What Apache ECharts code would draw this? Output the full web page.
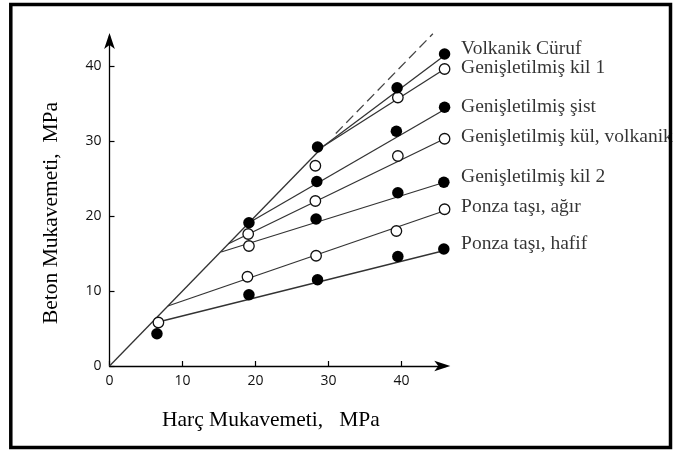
<!DOCTYPE html>
<html><head><meta charset="utf-8">
<script src="https://cdn.jsdelivr.net/npm/echarts@6/dist/echarts.min.js"></script>
<style>html,body{margin:0;padding:0;background:#fff}#c{width:675px;height:450px}</style>
</head><body><div id="c"></div>
<script>
// ---- data ----
const materials = ['Volkanik Cüruf','Genişletilmiş kil 1','Genişletilmiş şist','Genişletilmiş kül, volkanik','Genişletilmiş kil 2','Ponza taşı, ağır','Ponza taşı, hafif'];
const fitStartX = [29.3, 29.3, 19.1, 16.3, 15.3, 8.0, 6.8];
const fitStartY = [29.3, 29.3, 19.1, 16.3, 15.2, 8.0, 5.9];
const fitEndX   = [45.9, 45.9, 45.9, 45.9, 45.9, 45.9, 45.9];
const fitEndY   = [41.4, 39.6, 34.2, 30.3, 24.5, 20.7, 15.4];
const filledPoints = [[6.5,4.3],[19.1,19.1],[19.1,9.5],[28.5,29.2],[28.4,24.6],[28.3,19.6],[28.5,11.5],[39.4,37.1],[39.3,31.3],[39.5,23.1],[39.5,14.6],[45.9,41.6],[45.9,34.5],[45.8,24.5],[45.8,15.6]];
const openPoints = [[6.7,5.8],[19.0,17.6],[19.1,16.0],[18.9,11.9],[28.2,26.7],[28.2,22.0],[28.3,14.7],[39.5,35.8],[39.5,28.0],[39.3,18.0],[45.9,39.6],[45.9,30.3],[45.9,20.9]];
const equalLine = [[0,0],[29.3,29.3]];
const equalDashed = [[31.0,31.0],[44.3,44.3]];
const xTicks = [0,10,20,30,40];
const yTicks = [0,10,20,30,40];
const xName = 'Harç Mukavemeti,   MPa';
const yName = 'Beton Mukavemeti,  MPa';

// ---- chart ----
const chart = echarts.init(document.getElementById('c'), null, {renderer:'canvas'});
const labelDy = [-6.5,-1.2,-3,-1.8,-5,-3.5,-7];
const lineCol = '#333';
const series = [];
series.push({type:'line', data: equalLine, symbol:'none', lineStyle:{color:lineCol, width:1.3}, clip:false, silent:true});
series.push({type:'line', data: equalDashed, symbol:'none', lineStyle:{color:'#444', width:1.3, type:[10,5]}, clip:false, silent:true});
materials.forEach((m,i)=>{
  series.push({type:'line', name:m, data:[[fitStartX[i],fitStartY[i]],[fitEndX[i],fitEndY[i]]], symbol:'none', lineStyle:{color:lineCol,width:1.3}, clip:false, silent:true});
});
series.push({type:'scatter', data: openPoints, symbol:'circle', symbolSize:10.5, itemStyle:{color:'#fff', borderColor:'#111', borderWidth:1.3, opacity:1}, clip:false, z:5, silent:true});
series.push({type:'scatter', data: filledPoints, symbol:'circle', symbolSize:11.5, itemStyle:{color:'#000', opacity:1}, clip:false, z:5, silent:true});
series.push({type:'scatter',
  data: materials.map((m,i)=>({value:[fitEndX[i],fitEndY[i]], label:{show:true, position:'right', distance:0, offset:[16,labelDy[i]], formatter:m}})),
  symbol:'circle', symbolSize:1, itemStyle:{color:'rgba(0,0,0,0)'},
  label:{fontFamily:'Liberation Serif', fontSize:19.5, color:'#000'},
  clip:false, z:6, silent:true});

const axisLineStyle = {color:'#000', width:1.3};
chart.setOption({
  animation:false,
  backgroundColor:'#fff',
  grid:{left:109.5, top:36, width:335.8, height:330, containLabel:false, outerBoundsMode:'none'},
  xAxis:{type:'value', min:0, max:46,
    axisLine:{show:true, onZero:false, lineStyle:axisLineStyle, symbol:['none','arrow'], symbolSize:[8,16], symbolOffset:[0,5]},
    axisTick:{show:true, inside:true, length:5, customValues:xTicks, lineStyle:{color:'#000', width:1.2}},
    axisLabel:{customValues:xTicks, margin:8, fontFamily:'Open Sans', fontSize:14, color:'#111'},
    splitLine:{show:false},
    name:xName, nameLocation:'middle', nameGap:43,
    nameTextStyle:{fontFamily:'Liberation Serif', fontSize:21.5, color:'#000', padding:[0,13,0,0]}
  },
  yAxis:{type:'value', min:0, max:44,
    axisLine:{show:true, onZero:false, lineStyle:axisLineStyle, symbol:['none','arrow'], symbolSize:[8,16], symbolOffset:[0,3]},
    axisTick:{show:true, inside:true, length:5, customValues:yTicks, lineStyle:{color:'#000', width:1.2}},
    axisLabel:{customValues:yTicks, margin:8, fontFamily:'Open Sans', fontSize:14, color:'#111'},
    splitLine:{show:false},
    name:yName, nameLocation:'middle', nameGap:47,
    nameTextStyle:{fontFamily:'Liberation Serif', fontSize:21.5, color:'#000', padding:[0,24,0,0]}
  },
  graphic:[{type:'rect', silent:true, z:100, shape:{x:10.8, y:4.5, width:659.7, height:443}, style:{fill:'none', stroke:'#000', lineWidth:3.5}}],
  series: series
});
</script></body></html>
